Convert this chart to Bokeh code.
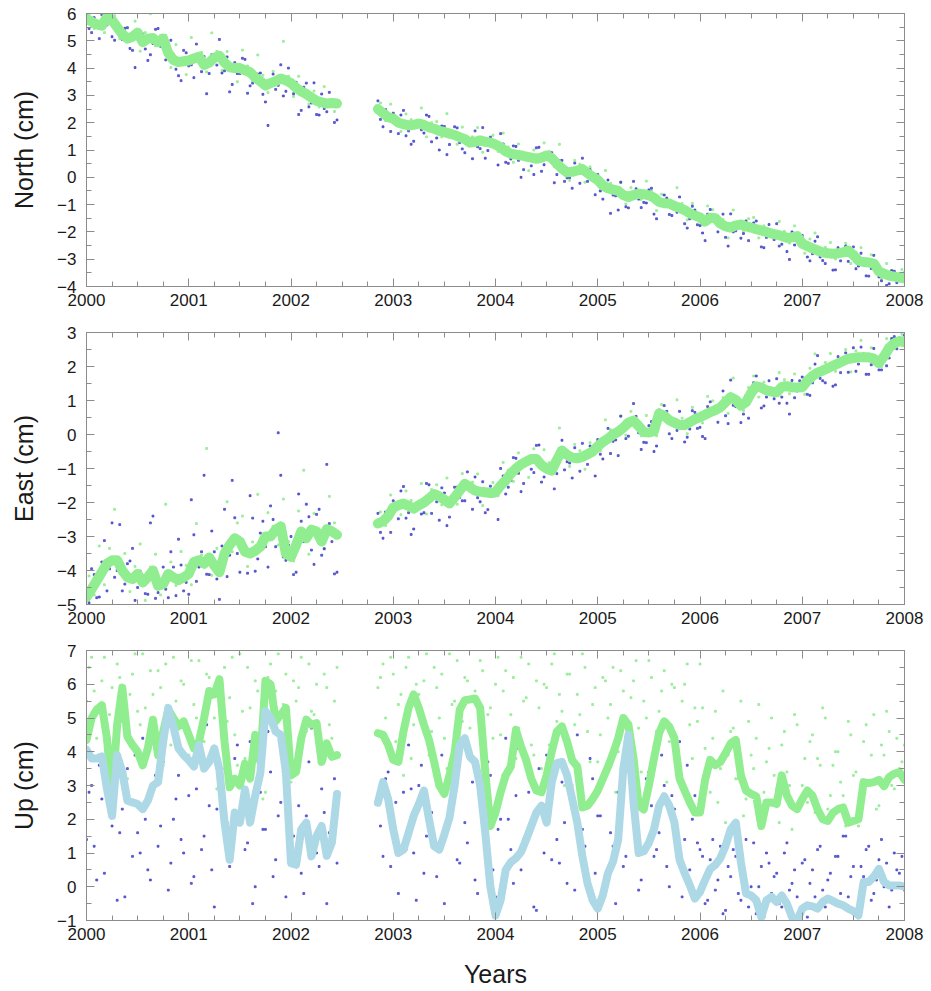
from bokeh.plotting import figure
from bokeh.layouts import column
from bokeh.models import LinearAxis, FixedTicker, CustomJSTickFormatter, Range1d, CustomLabelingPolicy
from bokeh.embed import file_html
from bokeh.resources import INLINE

# ---------------- data (cm, decimal years) ----------------
year_ticks = [2000, 2001, 2002, 2003, 2004, 2005, 2006, 2007, 2008]
north_ticks = [-4, -3, -2, -1, 0, 1, 2, 3, 4, 5, 6]
east_ticks = [-5, -4, -3, -2, -1, 0, 1, 2, 3]
up_ticks = [-1, 0, 1, 2, 3, 4, 5, 6, 7]

# smoothed series; first segment starts 2000.00, second starts 2002.85 (0.05 yr steps)
north_line_a = [5.80, 5.70, 5.60, 5.55, 5.88, 5.75, 5.50, 5.25, 5.08, 5.15, 5.30, 4.95, 5.08, 5.10, 4.95, 5.08, 4.55, 4.30, 4.22, 4.25,
                4.28, 4.35, 4.42, 4.12, 4.20, 4.38, 4.45, 4.20, 4.03, 4.00, 4.00, 3.92, 3.85, 3.65, 3.52, 3.36, 3.45, 3.52, 3.62, 3.55,
                3.45, 3.28, 3.15, 3.05, 2.92, 2.80, 2.75, 2.70, 2.72, 2.70]
north_line_b = [2.50, 2.35, 2.20,
                2.15, 2.00, 1.95, 1.90, 1.92, 1.97, 1.92, 1.83, 1.78, 1.70, 1.66, 1.60, 1.55, 1.47, 1.40, 1.27, 1.30, 1.35, 1.30, 1.27,
                1.20, 1.10, 0.95, 0.87, 0.83, 0.80, 0.76, 0.72, 0.68, 0.72, 0.80, 0.70, 0.50, 0.32, 0.18, 0.20, 0.25, 0.30, 0.15, 0.02,
                -0.10, -0.30, -0.40, -0.45, -0.50, -0.65, -0.72, -0.65, -0.60, -0.62, -0.66, -0.75, -0.90, -0.95, -0.96, -1.05, -1.12, -1.20, -1.32, -1.40,
                -1.47, -1.62, -1.48, -1.50, -1.70, -1.80, -1.84, -1.76, -1.73, -1.80, -1.84, -1.90, -1.95, -2.00, -2.06, -2.10, -2.15, -2.22, -2.20, -2.15,
                -2.43, -2.52, -2.60, -2.68, -2.75, -2.78, -2.80, -2.78, -2.75, -2.68, -2.85, -3.05, -3.10, -3.12, -3.16, -3.45, -3.53, -3.60, -3.64, -3.67,
                -3.70]

east_line_a = [-4.78, -4.55, -4.30, -4.05, -3.80, -3.70, -3.70, -4.00, -4.20, -4.25, -4.10, -4.35, -4.20, -4.00, -4.45, -4.40, -4.10, -4.20, -4.28, -4.20,
               -4.10, -3.75, -3.70, -3.80, -3.62, -3.85, -4.05, -3.50, -3.25, -3.05, -3.15, -3.45, -3.50, -3.42, -3.30, -3.00, -3.00, -2.80, -2.70, -3.50,
               -3.60, -3.25, -2.85, -3.05, -2.80, -2.85, -3.15, -2.78, -2.85, -2.95]
east_line_b = [-2.62, -2.55, -2.40,
               -2.15, -2.08, -2.03, -2.10, -2.18, -2.08, -2.00, -1.88, -1.75, -1.82, -1.92, -2.03, -1.85, -1.65, -1.45, -1.55, -1.65, -1.68, -1.70, -1.72,
               -1.70, -1.50, -1.35, -1.15, -1.00, -0.88, -0.80, -0.72, -0.72, -0.90, -1.00, -1.06, -0.75, -0.47, -0.60, -0.68, -0.70, -0.66, -0.58, -0.50,
               -0.35, -0.22, -0.12, 0.00, 0.08, 0.20, 0.35, 0.41, 0.25, 0.07, 0.06, 0.10, 0.62, 0.55, 0.42, 0.35, 0.28, 0.28, 0.36, 0.45,
               0.51, 0.58, 0.66, 0.72, 0.80, 0.95, 1.10, 1.02, 0.85, 0.95, 1.22, 1.42, 1.38, 1.30, 1.26, 1.24, 1.40, 1.42, 1.39, 1.38,
               1.39, 1.58, 1.72, 1.82, 1.88, 1.95, 2.02, 2.09, 2.16, 2.23, 2.25, 2.27, 2.27, 2.27, 2.23, 2.10, 2.30, 2.55, 2.68, 2.75,
               2.72]

up_green_a = [4.35, 5.00, 5.25, 5.38, 4.40, 2.70, 4.80, 5.90, 4.45, 4.20, 4.00, 3.60, 4.10, 4.95, 3.90, 4.60, 5.25, 5.00, 4.75, 4.90,
              4.50, 4.10, 4.30, 5.00, 5.80, 5.70, 6.15, 4.30, 2.95, 3.20, 3.00, 3.65, 3.20, 4.50, 3.70, 6.10, 6.00, 4.90, 5.10, 5.30,
              3.30, 3.40, 4.40, 4.95, 4.80, 4.85, 3.70, 4.25, 3.85, 3.90]
up_green_b = [4.55, 4.50, 4.20,
              3.76, 3.70, 4.60, 5.30, 5.70, 5.30, 4.80, 4.35, 3.70, 3.00, 2.75, 3.30, 3.96, 5.24, 5.53, 5.55, 5.58, 5.30, 3.40, 1.80,
              2.20, 2.80, 3.30, 3.56, 4.65, 4.15, 3.75, 3.20, 2.85, 2.80, 3.30, 4.00, 4.60, 4.75, 4.30, 3.75, 3.56, 2.35, 2.40, 2.60,
              2.85, 3.20, 3.55, 3.95, 4.40, 5.00, 4.80, 3.80, 2.40, 2.29, 3.00, 3.80, 4.55, 4.90, 4.74, 4.40, 3.20, 2.85, 2.50, 2.20,
              2.20, 3.17, 3.76, 3.60, 3.70, 3.96, 4.25, 4.35, 3.30, 2.85, 2.75, 2.68, 1.80, 2.50, 2.50, 2.45, 3.30, 2.70, 2.40, 2.30,
              2.60, 2.85, 2.70, 2.29, 2.00, 1.95, 2.19, 2.30, 2.35, 1.90, 1.95, 2.00, 3.10, 3.07, 3.10, 3.17, 2.98, 3.25, 3.35, 3.40,
              3.17]
up_blue_a = [4.06, 3.80, 3.80, 3.86, 2.90, 2.10, 3.90, 3.40, 2.55, 2.50, 2.45, 2.30, 2.55, 3.00, 3.10, 4.30, 5.30, 4.74, 4.10, 3.90,
             3.75, 3.56, 4.20, 3.50, 3.70, 4.10, 3.47, 1.90, 0.80, 2.20, 1.90, 2.88, 1.90, 2.70, 3.37, 5.20, 5.00, 4.60, 4.50, 3.40,
             0.70, 0.65, 1.70, 1.90, 0.90, 1.50, 1.80, 0.92, 1.31, 2.75]
up_blue_b = [2.49, 3.10, 2.60,
             1.70, 1.00, 1.10, 1.60, 2.10, 2.45, 2.85, 2.00, 1.20, 1.10, 1.55, 2.05, 3.00, 4.20, 4.40, 3.85, 3.70, 3.00, 1.60, 0.00,
             -0.85, -0.40, 0.50, 0.73, 0.85, 1.03, 1.40, 1.80, 2.20, 2.40, 1.90, 3.10, 3.66, 3.70, 3.30, 2.60, 1.90, 0.90, 0.10, -0.40,
             -0.65, -0.25, 0.40, 0.75, 1.40, 3.50, 4.50, 2.50, 1.00, 1.05, 1.30, 1.70, 2.40, 2.68, 2.40, 1.90, 0.80, 0.40, 0.05, -0.35,
             -0.15, 0.20, 0.53, 0.65, 0.85, 1.21, 1.70, 1.90, 0.73, -0.20, -0.26, -0.40, -0.90, -0.40, -0.30, -0.45, -0.26, -0.50, -0.90, -1.00,
             -0.65, -0.55, -0.58, -0.65, -0.45, -0.35, -0.42, -0.50, -0.55, -0.65, -0.72, -0.85, 0.14, 0.14, 0.30, 0.53, 0.14, 0.04, 0.04, 0.04,
             0.00]

# daily solutions, set 1: first segment starts 2000.025, second 2002.875
north_blue_a = [5.45, 5.85, 5.08, 5.6, 5.9, 5.02, 5.18, 5.46, 4.72, 4.02, 5.32, 4.7, 4.49, 5.42, 4.8, 4.3, 5.02, 3.96, 3.54, 4.56,
                4.12, 4.88, 3.87, 3.06, 4.49, 4.11, 3.82, 4.41, 3.4, 3.8, 4.36, 3.08, 3.45, 3.78, 3.04, 1.9, 3.78, 3.37, 2.98, 4.0,
                3.06, 2.3, 3.3, 2.58, 3.46, 2.28, 2.52, 3.11, 2.01]
north_green_a = [5.95, 5.45, 5.68, 5.3, 5.95, 5.92, 5.08, 5.36, 5.02, 5.72, 4.62, 5.3, 5.99, 4.82, 5.2, 5.2, 4.02, 4.86, 4.34, 3.76,
                 5.12, 4.28, 4.57, 3.86, 5.29, 4.61, 3.92, 4.61, 4.1, 3.5, 4.66, 4.08, 3.55, 4.48, 3.74, 3.1, 3.88, 3.47, 4.98, 3.7,
                 2.96, 3.7, 3.2, 2.68, 3.16, 2.58, 3.32, 2.81, 2.41]
north_blue_b = [2.12, 2.48, 1.68, 1.98, 2.28, 1.52, 1.21, 2.04, 1.74, 2.28, 1.3, 1.44, 1.88, 0.83, 1.48, 1.81, 1.04, 1.44, 0.68, 1.12,
                1.82, 0.98, 1.14, 0.45, 1.22, 0.51, 1.15, 0.62, 0.28, 0.84, 0.1, 1.1, 0.46, 0.65, -0.2, 0.61, -0.15, -0.01, 0.52, -0.22,
                0.12, 0.28, -0.64, -0.5, -0.25, -1.32, -0.68, -0.18, -1.08, -0.78, -0.42, -1.11, -0.94, -0.4, -1.52, -1.02, -0.76, -1.4, -1.28, -1.06,
                -1.86, -1.06, -1.74, -2.04, -1.35, -1.59, -2.0, -1.35, -2.52, -2.0, -1.64, -2.06, -2.32, -1.67, -2.02, -2.58, -1.73, -2.28, -2.52, -2.08,
                -3.01, -2.48, -2.09, -2.58, -3.06, -2.34, -2.92, -3.16, -2.69, -3.39, -3.06, -2.52, -2.86, -3.35, -2.78, -3.61, -3.34, -3.2, -3.79, -3.96,
                -3.42, -3.86, -3.78]
north_green_b = [2.72, 2.08, 2.68, 2.18, 1.68, 2.32, 2.11, 1.84, 2.54, 1.48, 2.0, 2.04, 1.48, 2.33, 1.68, 1.21, 1.84, 1.24, 1.48, 1.82,
                 0.92, 1.38, 1.54, 0.95, 1.62, 1.11, 0.55, 1.22, 0.88, 0.24, 1.0, 0.6, 1.26, 0.95, 0.4, 1.21, 0.35, -0.11, 0.62, 0.48,
                 -0.18, 0.38, 0.06, -0.4, 0.25, -0.22, -0.58, -0.18, -0.98, -0.38, -0.52, -0.81, -0.14, -0.5, -1.22, -0.62, -0.86, -1.1, -0.38, -0.96,
                 -1.56, -0.96, -1.34, -1.74, -1.05, -1.19, -1.7, -1.55, -2.22, -1.2, -1.64, -1.96, -1.52, -1.47, -2.22, -1.78, -1.93, -2.18, -1.62, -1.98,
                 -2.41, -1.78, -2.19, -2.78, -2.26, -2.04, -2.82, -2.56, -2.39, -2.99, -2.66, -2.42, -3.16, -2.75, -2.58, -3.21, -2.84, -3.2, -3.69, -3.16,
                 -3.42, -3.76, -3.38]
# set 2: first segment starts 2000.00, second 2002.85
north_blue2_a = [5.98, 5.30, 5.50, 5.96, 5.58, 5.15, 5.60, 5.05, 5.48, 4.65, 5.20, 5.25, 4.28, 4.90, 5.45, 4.78, 4.45, 4.50, 3.72, 4.65,
                 4.08, 3.65, 4.52, 4.42, 3.80, 4.28, 5.05, 3.90, 3.13, 4.20, 3.80, 4.32, 3.35, 3.55, 3.82, 2.76, 3.55, 3.22, 4.12, 3.15,
                 3.35, 3.48, 2.45, 3.45, 2.72, 2.30, 3.05, 2.40, 2.82, 2.10]
north_blue2_b = [2.80, 1.85, 2.10, 2.35, 1.60, 2.45, 1.70, 1.32, 2.07, 1.62, 2.23, 1.68, 1.00, 1.86, 1.20, 1.85, 1.27, 0.90, 1.37, 1.70,
                 1.05, 0.70, 1.47, 1.10, 1.60, 0.55, 0.67, 1.13, 0.00, 0.86, 0.42, 1.08, 0.22, 0.70, 0.90, 0.10, 0.62, -0.02, -0.40, 0.35,
                 0.70, -0.15, -0.08, 0.10, -0.80, -0.10, -0.65, -1.20, -0.55, -1.12, -0.15, -0.80, -0.92, -0.46, -1.35, -0.80, -0.65, -1.36, -1.15, -0.72,
                 -1.70, -1.52, -1.20, -1.77, -2.32, -1.18, -1.60, -1.60, -2.20, -1.34, -1.96, -2.23, -1.60, -1.94, -1.60, -2.55, -2.20, -1.96, -1.70, -2.45,
                 -2.72, -2.00, -2.25, -2.13, -2.92, -2.80, -2.18, -3.05, -2.68, -3.40, -2.58, -2.85, -3.08, -2.55, -3.25, -3.00, -3.62, -2.86, -3.65, -3.43,
                 -3.90, -3.44, -3.77, -3.50]

east_blue_a = [-4.95, -4.12, -4.78, -3.12, -3.95, -4.2, -2.65, -4.4, -3.72, -4.88, -4.02, -4.68, -2.6, -4.82, -4.32, -4.55, -3.45, -4.74, -3.84, -4.35,
               -1.92, -4.32, -3.45, -4.11, -2.84, -4.25, -3.28, -4.18, -1.35, -3.5, -3.1, -4.08, -2.46, -3.66, -2.55, -3.9, -2.5, 0.05, -3.6, -3.25,
               -4.12, -1.75, -3.15, -2.42, -3.82, -2.2, -3.36, -2.62, -4.1]
east_green_a = [-4.16, -4.72, -3.28, -4.42, -3.35, -2.2, -4.05, -3.5, -4.62, -3.88, -3.22, -4.88, -3.9, -3.52, -4.72, -2.05, -3.75, -4.44, -3.44, -3.85,
                -4.42, -2.62, -3.55, -0.41, -4.14, -3.35, -3.68, -1.98, -3.45, -2.6, -2.4, -3.88, -3.16, -1.76, -3.35, -2.3, -2.7, -3.25, -1.9, -3.15,
                -3.72, -2.25, -1.05, -3.52, -2.32, -2.8, -3.36, -1.82, -2.6]
east_blue_b = [-2.88, -2.28, -2.88, -2.22, -1.66, -2.46, -2.94, -2.03, -2.34, -1.44, -2.32, -1.98, -1.57, -2.68, -2.04, -1.55, -1.95, -1.1, -2.2, -1.86,
               -1.39, -2.21, -1.81, -2.5, -1.22, -1.55, -0.68, -1.14, -1.44, -0.66, -1.12, -0.31, -1.25, -1.13, -1.6, -0.41, -1.04, -0.84, -0.39, -1.08,
               -0.72, -0.34, -1.22, -0.58, -0.07, -0.56, -0.16, 0.54, -0.12, 0.28, 0.53, -0.44, -0.24, 0.38, -0.34, 0.48, 0.68, -0.12, 0.12, 0.38,
               -0.08, 0.7, 0.18, -0.06, 0.82, 0.59, 0.36, 1.28, 0.32, 0.86, 1.04, 0.6, 0.48, 1.52, 1.3, 0.84, 1.58, 1.05, 0.92, 1.51,
               0.6, 1.08, 1.58, 1.38, 1.15, 2.07, 1.65, 1.52, 2.08, 1.46, 1.82, 2.4, 2.14, 1.86, 2.57, 1.77, 2.05, 2.26, 1.9, 2.02,
               2.82, 2.52, 2.64]
east_green_b = [-2.28, -2.68, -1.78, -2.02, -2.36, -1.66, -1.94, -2.23, -1.44, -2.34, -1.62, -1.48, -2.07, -1.28, -1.84, -2.05, -1.15, -1.6, -1.4, -1.16,
                -2.09, -1.61, -1.41, -1.8, -0.82, -1.05, -1.38, -0.54, -0.74, -1.26, -0.42, -0.91, -0.45, -0.83, -1.1, 0.19, -0.44, -0.94, -0.29, -0.48,
                -1.02, -0.24, -0.32, -0.48, 0.43, 0.14, -0.06, 0.54, -0.02, 0.68, 0.43, -0.04, 0.56, 0.28, -0.04, 0.88, 0.58, 0.28, 1.02, 0.48,
                0.02, 0.8, 0.58, 0.34, 1.12, 0.99, 0.66, 1.08, 0.62, 1.66, 1.04, 0.7, 1.38, 1.72, 1.1, 1.54, 1.38, 1.15, 1.82, 1.61,
                1.2, 1.78, 1.48, 1.18, 1.95, 2.37, 1.75, 2.12, 2.38, 1.86, 2.22, 2.5, 1.84, 2.46, 2.77, 2.17, 2.55, 2.26, 2.0, 2.82,
                2.82, 2.62, 2.95]
east_blue2_a = [-4.88, -3.95, -4.80, -3.75, -4.60, -2.60, -4.00, -4.60, -3.80, -3.35, -4.50, -4.15, -4.70, -2.40, -4.65, -3.90, -4.80, -3.90, -3.08, -4.60,
                -4.70, -2.95, -3.90, -1.20, -4.12, -3.45, -4.85, -2.20, -3.55, -2.45, -4.05, -3.25, -1.80, -4.02, -2.90, -3.30, -2.10, -3.30, -1.20, -3.70,
                -3.00, -4.05, -2.55, -2.05, -3.40, -2.35, -3.55, -0.88, -3.15, -4.05]
east_blue2_b = [-2.32, -3.05, -2.50, -1.95, -2.48, -1.53, -2.30, -2.78, -1.98, -2.30, -1.48, -1.85, -2.52, -1.72, -2.43, -1.55, -1.85, -1.95, -1.45, -1.25,
                -1.98, -2.30, -1.52, -1.80, -1.00, -1.75, -1.35, -0.70, -1.68, -0.70, -1.02, -0.32, -1.40, -1.10, -0.86, -1.15, -0.17, -0.80, -1.28, -0.60,
                -0.26, -0.88, -0.60, -0.15, -0.72, 0.18, -0.20, -0.62, 0.30, -0.05, 0.91, 0.05, -0.23, 0.26, -0.50, 0.72, 0.85, 0.02, 0.25, 0.68,
                -0.22, 0.16, 0.65, 0.21, -0.12, 0.96, 0.62, 0.90, 0.55, 1.60, 0.82, 0.35, 1.15, 1.12, 1.72, 0.78, 1.10, 1.36, 1.64, 1.10,
                0.92, 1.59, 1.28, 1.69, 1.18, 1.52, 2.32, 1.58, 2.05, 1.42, 2.29, 2.06, 1.83, 2.55, 2.07, 2.37, 1.77, 2.53, 1.90, 2.40,
                2.25, 2.88, 2.65, 2.92]

up_gdots_a = [6.5, 5.8, 3.9, 6.8, 5.1, 4.6, 6.2, 3.4, 5.7, 6.9, 4.8, 5.3, 6.4, 3.1, 5.9, 6.6, 4.2, 5.5, 6.1, 3.8,
              6.7, 5.0, 4.4, 6.3, 5.6, 2.9, 6.0, 4.9, 6.8, 3.6, 5.2, 6.5, 4.1, 5.8, 2.6, 6.2, 4.7, 6.9, 5.4, 3.3,
              6.1, 5.9, 4.5, 6.6, 5.1, 3.7, 6.3, 4.8, 5.5]
up_bdots_a = [2.8, 1.2, 3.6, 0.4, 2.2, 3.1, 1.6, -0.3, 2.5, 3.9, 1.0, 2.0, 0.2, 3.3, 1.8, 4.5, 0.7, 2.6, 1.4, 3.8,
              0.1, 2.9, 1.1, 4.8, 0.5, 2.3, 3.5, 1.9, 0.9, 4.2, 2.7, 1.3, -0.5, 3.0, 1.7, 4.6, 0.3, 2.1, 3.4, 0.8,
              1.5, 2.4, -0.2, 3.7, 1.0, 0.6, 2.2, 1.6, 3.2]
up_gdots_b = [6.2, 5.0, 6.8, 4.3, 5.7, 6.5, 3.8, 6.0, 5.2, 6.9, 4.6, 5.9, 6.3, 3.5, 5.4, 6.7, 4.9, 6.1, 5.6, 3.2,
              6.4, 5.1, 4.4, 6.8, 5.8, 3.6, 6.2, 4.7, 5.5, 6.6, 3.9, 5.3, 6.0, 4.2, 6.9, 5.7, 3.0, 6.3, 4.8, 5.1,
              6.5, 3.7, 5.9, 4.5, 6.1, 5.4, 2.8, 6.4, 4.1, 5.6, 6.7, 3.4, 5.0, 6.2, 4.6, 5.8, 3.1, 6.0, 4.3, 5.5,
              6.6, 3.8, 4.9, 5.3, 3.6, 4.4, 2.5, 5.8, 3.9, 4.7, 3.2, 2.1, 4.9, 3.5, 5.4, 2.8, 4.1, 3.3, 1.9, 4.6,
              3.0, 5.1, 2.4, 3.8, 4.3, 2.2, 3.6, 5.0, 2.7, 4.0, 3.1, 1.8, 4.5, 3.4, 2.6, 4.8, 3.9, 2.3, 4.2, 5.2,
              3.0, 4.4, 3.7]
up_bdots_b = [1.8, 3.2, 0.6, 2.5, 4.0, 1.1, 2.9, -0.4, 3.6, 1.5, 2.2, 0.3, 3.9, 1.9, 2.7, 0.8, 4.4, 1.3, 3.1, -0.2,
              2.4, 3.7, 0.5, 1.7, 3.3, 2.0, 0.1, 4.1, 1.4, 2.8, -0.6, 3.5, 1.0, 2.3, 4.3, 0.7, 1.9, 3.0, -0.1, 2.6,
              1.2, 3.8, 0.4, 2.1, 3.4, 1.6, -0.5, 2.9, 0.9, 4.6, 1.8, 0.2, 3.2, 2.4, 1.1, 3.9, 0.6, 2.7, 1.5, -0.3,
              3.6, 2.0, 1.3, 0.9, -0.4, 1.4, 0.2, -0.8, 0.6, 1.1, -0.2, 0.4, -0.6, 1.3, 0.0, -0.9, 0.7, 0.3, -0.5, 1.0,
              -0.1, 0.5, -0.7, 0.8, 0.1, -0.3, 1.2, -0.6, 0.4, 0.9, -0.2, 1.5, 0.3, -0.8, 0.6, 1.1, -0.4, 0.2, 1.4, 0.7,
              -0.1, 0.5, 0.9]
up_gdots2_a = [5.5, 6.8, 4.4, 6.1, 3.5, 5.9, 6.6, 4.9, 3.2, 6.3, 5.2, 6.9, 4.0, 5.7, 6.4, 3.6, 5.1, 6.8, 4.7, 6.0,
               3.9, 5.4, 6.7, 4.3, 6.2, 5.0, 3.4, 6.5, 5.6, 4.5, 6.9, 3.8, 5.3, 6.1, 4.8, 2.8, 6.6, 5.8, 4.1, 6.3,
               3.1, 5.5, 6.8, 4.6, 5.2, 6.0, 3.7, 5.9, 4.4, 6.5]
up_gdots2_b = [5.9, 6.6, 4.1, 6.3, 5.4, 3.3, 6.8, 4.8, 5.7, 6.1, 3.9, 6.5, 5.0, 4.4, 6.9, 5.5, 3.6, 6.2, 4.7, 5.8,
               6.7, 3.2, 5.3, 6.0, 4.5, 6.4, 5.1, 3.8, 6.8, 5.6, 4.2, 6.1, 3.5, 5.9, 6.6, 4.9, 5.2, 6.3, 3.0, 5.7,
               6.9, 4.6, 5.4, 3.7, 6.2, 5.0, 6.5, 4.0, 5.8, 3.4, 6.1, 4.7, 5.5, 6.7, 3.9, 5.2, 6.4, 4.3, 5.9, 3.6,
               6.0, 4.8, 5.3, 6.6, 4.1, 2.8, 5.2, 3.5, 1.9, 4.6, 3.2, 5.5, 2.6, 3.9, 4.4, 2.2, 3.7, 5.0, 2.9, 4.2,
               3.4, 1.7, 4.8, 3.0, 2.5, 4.5, 3.8, 5.3, 2.3, 3.6, 4.0, 2.7, 4.9, 3.3, 1.8, 4.3, 3.1, 5.1, 2.4, 3.9,
               4.6, 2.9, 3.5, 4.2]
up_bdots2_a = [1.4, 3.0, 0.2, 2.6, 4.1, 1.8, -0.4, 2.3, 3.5, 0.9, 1.6, 4.4, 0.5, 2.9, 1.2, 3.7, -0.1, 2.0, 3.3, 1.0,
               2.7, 0.3, 4.0, 1.5, 2.4, -0.6, 3.1, 1.9, 0.6, 3.8, 2.2, 1.1, 4.3, 0.0, 2.8, 1.7, 3.4, 0.8, 2.5, -0.3,
               1.3, 3.6, 0.4, 2.1, 4.7, 1.0, 2.9, -0.5, 1.8, 0.7]
up_bdots2_b = [2.6, 0.9, 3.4, 1.6, -0.2, 2.8, 4.2, 1.0, 3.0, 0.4, 2.2, 3.8, 1.3, -0.5, 2.5, 3.5, 0.7, 1.9, 4.0, 0.2,
               2.9, 1.5, 3.3, -0.3, 2.0, 4.4, 1.1, 2.7, 0.5, 3.6, 1.8, -0.7, 2.4, 3.9, 0.8, 1.4, 3.1, 0.1, 2.6, 4.5,
               1.7, 0.3, 3.2, 2.1, -0.4, 3.7, 1.2, 2.8, 0.6, 4.1, 1.9, -0.1, 2.5, 3.4, 0.9, 1.6, 3.0, 0.0, 2.3, 4.3,
               1.4, 0.5, 2.7, 1.1, -0.5, 0.8, -0.1, 1.2, -0.7, 0.3, 0.9, -0.4, 1.4, 0.0, -0.8, 0.6, 1.0, -0.2, 0.4, -0.6,
               1.3, 0.1, -0.3, 0.7, -0.9, 0.5, 1.1, -0.1, 0.2, -0.5, 0.9, 1.5, -0.3, 0.6, -0.7, 0.3, 1.2, -0.2, 0.8, 0.0,
               -0.6, 1.0, 0.4, -0.1]


def times(start, n):
    return [round(start + 0.05 * i, 3) for i in range(n)]


# ---------------- styling ----------------
FONT = "Liberation Sans"
GREEN = "#90ee90"
LBLUE = "#add8e6"
DOTBLUE = "#3434c4"
DOTGREEN = "#98ec98"
FRAME = "#8c8c8c"
TEXT = "#1a1a1a"
minus_fmt = CustomJSTickFormatter(code="return (tick < 0 ? '\u2212' : '') + Math.abs(tick);")
no_labels = CustomLabelingPolicy(code="for (const i of indices) { indices.unset(i) }\nreturn indices")
x_ticker = FixedTicker(ticks=year_ticks, minor_ticks=[2000 + 0.25 * i for i in range(33)])


def style_axis(ax, labels):
    ax.major_tick_in = 8
    ax.major_tick_out = 0
    ax.minor_tick_in = 5
    ax.minor_tick_out = 0
    ax.major_tick_line_color = FRAME
    ax.minor_tick_line_color = FRAME
    ax.axis_line_color = FRAME
    ax.formatter = minus_fmt
    if labels:
        ax.major_label_text_font = FONT
        ax.major_label_text_font_size = "17px"
        ax.major_label_text_color = TEXT
    else:
        ax.major_label_text_font_size = "1px"
        ax.major_label_standoff = 0
        ax.major_label_policy = no_labels


def panel(ylabel, yr, yt, height, top, bottom, xlabel=None):
    p = figure(width=926, height=height, x_range=Range1d(2000, 2008), y_range=Range1d(*yr),
               output_backend="svg", toolbar_location=None,
               min_border_left=86, min_border_right=22, min_border_top=top, min_border_bottom=bottom)
    p.xgrid.visible = False
    p.ygrid.visible = False
    p.outline_line_color = FRAME
    p.background_fill_color = "white"
    p.border_fill_color = "white"
    y_ticker = FixedTicker(ticks=yt, minor_ticks=[yt[0] + 0.5 * i for i in range(2 * (yt[-1] - yt[0]) + 1)])
    p.xaxis.ticker = x_ticker
    p.yaxis.ticker = y_ticker
    style_axis(p.xaxis[0], True)
    style_axis(p.yaxis[0], True)
    p.xaxis.major_label_standoff = 7
    p.yaxis.major_label_standoff = 10
    p.yaxis.axis_label = ylabel
    p.yaxis.axis_label_text_font = FONT
    p.yaxis.axis_label_text_font_size = "25px"
    p.yaxis.axis_label_text_font_style = "normal"
    p.yaxis.axis_label_text_color = TEXT
    p.yaxis.axis_label_standoff = 16
    if xlabel:
        p.xaxis.axis_label = xlabel
        p.xaxis.axis_label_text_font = FONT
        p.xaxis.axis_label_text_font_size = "25px"
        p.xaxis.axis_label_text_font_style = "normal"
        p.xaxis.axis_label_text_color = TEXT
        p.xaxis.axis_label_standoff = 17
    ax_top = LinearAxis(ticker=x_ticker)
    style_axis(ax_top, False)
    p.add_layout(ax_top, "above")
    ax_right = LinearAxis(ticker=y_ticker)
    style_axis(ax_right, False)
    p.add_layout(ax_right, "right")
    return p


def dots(p, a, b, color, alpha, start_a=2000.025, start_b=2002.875):
    p.scatter(times(start_a, len(a)), a, marker="square", size=1.9, color=color, alpha=alpha)
    p.scatter(times(start_b, len(b)), b, marker="square", size=1.9, color=color, alpha=alpha)


def line(p, a, b, color, w):
    p.line(times(2000.0, len(a)), a, line_width=w, color=color, line_join="round", line_cap="round")
    p.line(times(2002.85, len(b)), b, line_width=w, color=color, line_join="round", line_cap="round")


p1 = panel("North (cm)", (-4, 6), north_ticks, 316, 13, 30)
dots(p1, north_green_a, north_green_b, DOTGREEN, 0.9)
dots(p1, north_blue_a, north_blue_b, DOTBLUE, 0.7)
dots(p1, north_blue2_a, north_blue2_b, DOTBLUE, 0.7, 2000.0, 2002.85)
line(p1, north_line_a, north_line_b, GREEN, 10)

p2 = panel("East (cm)", (-5, 3), east_ticks, 318, 16, 30)
dots(p2, east_green_a, east_green_b, DOTGREEN, 0.9)
dots(p2, east_blue_a, east_blue_b, DOTBLUE, 0.7)
dots(p2, east_blue2_a, east_blue2_b, DOTBLUE, 0.7, 2000.0, 2002.85)
line(p2, east_line_a, east_line_b, GREEN, 10)

p3 = panel("Up (cm)", (-1, 7), up_ticks, 356, 16, 68, xlabel="Years")
dots(p3, up_gdots_a, up_gdots_b, DOTGREEN, 0.9)
dots(p3, up_gdots2_a, up_gdots2_b, DOTGREEN, 0.9, 2000.0, 2002.85)
dots(p3, up_bdots_a, up_bdots_b, DOTBLUE, 0.7)
dots(p3, up_bdots2_a, up_bdots2_b, DOTBLUE, 0.7, 2000.0, 2002.85)
line(p3, up_green_a, up_green_b, GREEN, 8)
line(p3, up_blue_a, up_blue_b, LBLUE, 8)

layout = column(p1, p2, p3, spacing=0)
open("out.html", "w").write(file_html(layout, INLINE))
